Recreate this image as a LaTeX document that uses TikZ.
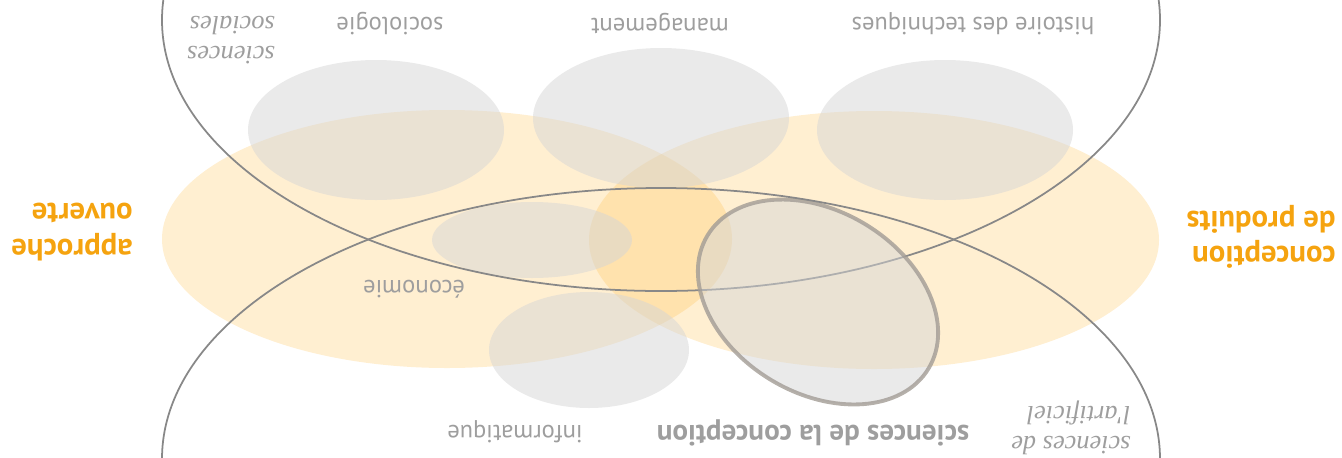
\documentclass[tikz,border=0pt]{standalone}
\usepackage{fontspec}
\usepackage{xcolor}
\usetikzlibrary{calc}
\newfontfamily\labelsans{PT Sans}
\newfontfamily\labelserif{Liberation Serif}
\definecolor{fieldorange}{HTML}{FFB42E}
\definecolor{blobgray}{HTML}{D5D5D5}
\definecolor{linegray}{HTML}{888888}
\definecolor{rimgray}{HTML}{A29C95}
\definecolor{textgray}{HTML}{9E9E9E}
\definecolor{textorange}{HTML}{F5A30F}

\begin{document}
\begin{tikzpicture}[
    x=0.02cm, y=0.02cm,
    field/.style={fill=fieldorange, fill opacity=0.22},
    blob/.style={fill=blobgray, fill opacity=0.5},
    realm/.style={draw=linegray, line width=1pt},
    lbl/.style={rotate=180, text=textgray, font=\labelsans\fontsize{14}{17}\selectfont},
    lblit/.style={rotate=180, text=textgray, align=left, font=\labelserif\itshape\fontsize{15}{17}\selectfont},
    lblbold/.style={rotate=180, text=textgray, font=\labelsans\bfseries\fontsize{16.5}{19}\selectfont},
    approach/.style={rotate=180, text=textorange, align=left, font=\labelsans\bfseries\fontsize{17.5}{20}\selectfont}
]
\useasboundingbox (0,0) rectangle (1342,-457);
\clip (0,0) rectangle (1342,-457);

% two approaches
\fill[field] (447,-239) ellipse [x radius=285, y radius=129];
\fill[field] (874,-240) ellipse [x radius=285, y radius=129];

% disciplines
\fill[blob] (376,-130) ellipse [x radius=128, y radius=70];
\fill[blob] (661,-118) ellipse [x radius=128, y radius=70];
\fill[blob] (945,-130) ellipse [x radius=128, y radius=70];
\fill[blob] (532,-240) ellipse [x radius=100, y radius=38];
\fill[blob] (589,-350) ellipse [x radius=100, y radius=58];

% social sciences
\draw[realm] (661,-20) ellipse [x radius=499, y radius=271];

% sciences of the artificial
\draw[blob, draw=rimgray, draw opacity=0.8, line width=2.2pt, rotate around={-31:(818,-302)}]
    (818,-302) ellipse [x radius=129, y radius=91];

% design sciences
\draw[realm] (661,-459) ellipse [x radius=499, y radius=271];

% labels
\node[approach] (ouverte) at (72,-232) {approche\\ouverte};
\node[approach] (produits) at (1261,-237) {conception\\de produits};
\node[lblit] (sociales) at (231,-40) {sciences\\sociales};
\node[lbl] (socio) at (390,-24) {sociologie};
\node[lbl] (manag) at (660,-24) {management};
\node[lbl] (histoire) at (973,-24) {histoire des techniques};
\node[lbl] (eco) at (414,-289) {économie};
\node[lbl] (info) at (515,-432) {informatique};
\node[lblbold] (conception) at (813,-433) {sciences de la conception};
\node[lblit] (artificiel) at (1071,-428) {sciences de\\l'artificiel};
\end{tikzpicture}
\end{document}
